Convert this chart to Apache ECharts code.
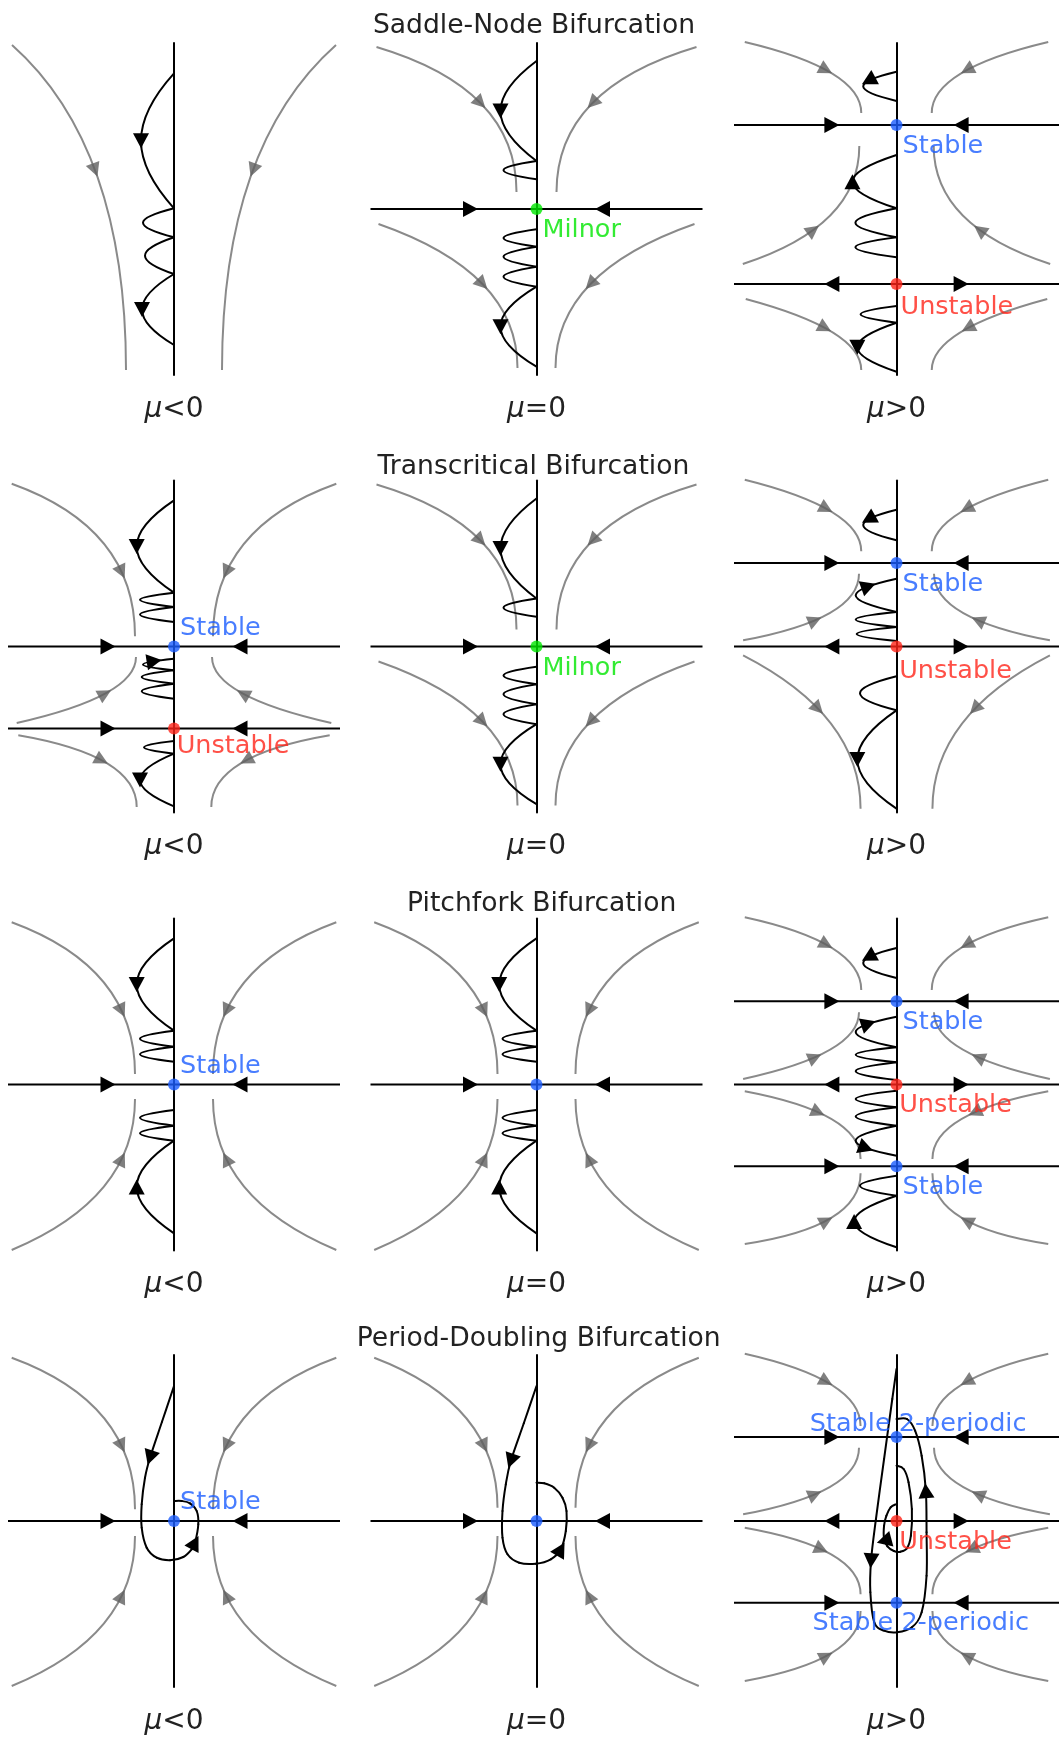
<!DOCTYPE html>
<html><head><meta charset="utf-8">
<script src="https://cdn.jsdelivr.net/npm/echarts@6/dist/echarts.min.js"></script>
<style>html,body{margin:0;padding:0;background:#fff}#chart{width:1059px;height:1737px}</style>
</head><body><div id="chart"></div>
<script>
// ================= DATA (panel-relative units, y up, vertical axis at x=0) =================
const rowTitles = ['Saddle-Node Bifurcation', 'Transcritical Bifurcation', 'Pitchfork Bifurcation', 'Period-Doubling Bifurcation'];
const muLabels = ['{i|μ}<0', '{i|μ}=0', '{i|μ}>0'];

// Flow lines (left half; right half is the mirror): [startX,startY, arrowX,arrowY, endX,endY]
// Invariant horizontal lines: [y, +1 attracting / -1 repelling]
// Fixed points: [y, kind, label]
// Iteration steps (lobes): [fromY, toY, width, arrowPosition (0 = none)]

// --- Saddle-Node ---
const snNegFlow  = [[-162, 164, -79, 39, -48, -161]];
const snNegLines = [];
const snNegFixed = [];
const snNegSteps = [[135.7, 0.7, 33, 0.5], [0.7, -28.3, 31, 0], [-28.3, -65, 29, 0], [-65, -136, 32, 0.5]];

const snZeroFlow  = [[-160, 162, -56, 106, -20, 17], [-158, -15, -54, -75, -19, -159]];
const snZeroLines = [[0, 1]];
const snZeroFixed = [[0, 'milnor', 'Milnor']];
const snZeroSteps = [[148, 48, 36, 0.5], [48, 29.7, 33, 0], [-20.3, -37.7, 33, 0], [-37.7, -57.7, 33, 0], [-57.7, -77.7, 33, 0], [-77.7, -157.7, 36, 0.5]];

const snPosFlow  = [[-155, 167, -72, 139, -36, 96], [-157, -55, -85, -21, -38, 63], [-154, -90, -73, -119, -36, -161]];
const snPosLines = [[84, 1], [-75, -1]];
const snPosFixed = [[84, 'stable', 'Stable'], [-75, 'unstable', 'Unstable']];
const snPosSteps = [[137.3, 108, 34, 0.3], [-48.3, -28.3, 42, 0], [-28.3, 0.7, 42, 0], [0.7, 54, 45, 0.5], [-97, -113.7, 36.7, 0], [-113.7, -162.7, 40, 0.5]];

// --- Transcritical ---
const tcNegFlow  = [[-162.3, 162.8, -52.3, 74.5, -39, 10.2], [-157.3, -76.5, -69, -47.2, -38, -10.5], [-155.7, -88.8, -72.3, -113.8, -37.3, -160.5]];
const tcNegLines = [[0, 1], [-82, 1]];
const tcNegFixed = [[0, 'stable', 'Stable'], [-82, 'unstable', 'Unstable']];
const tcNegSteps = [[146.2, 53.8, 37.3, 0.5], [53.8, 39.5, 34, 0], [39.5, 24.5, 34, 0],
                    [-52.2, -37.2, 32.3, 0], [-37.2, -23.8, 32.3, 0], [-23.8, -12.2, 31, 0.8],
                    [-94.5, -107.2, 30, 0], [-107.2, -159.8, 34, 0.5]];

const tcZeroFlow  = [[-160, 162, -56, 106, -20, 17], [-158, -15, -54, -75, -19, -159]];
const tcZeroLines = [[0, 1]];
const tcZeroFixed = [[0, 'milnor', 'Milnor']];
const tcZeroSteps = [[148, 48, 36, 0.5], [48, 29.7, 33, 0], [-20.3, -37.7, 33, 0], [-37.7, -57.7, 33, 0], [-57.7, -77.7, 33, 0], [-77.7, -157.7, 36, 0.5]];

const tcPosFlow  = [[-155, 166.8, -71.7, 137.8, -36, 95.2], [-156.7, 6.2, -83.3, 26.2, -38.3, 72.8], [-156.7, -8.8, -80, -62.2, -36.7, -162.2]];
const tcPosLines = [[83.5, 1], [0, -1]];
const tcPosFixed = [[83.5, 'stable', 'Stable'], [0, 'unstable', 'Unstable']];
const tcPosSteps = [[136.8, 106.2, 34, 0.3], [5.5, 19.5, 40.7, 0], [19.5, 34.5, 41.7, 0], [34.5, 67.8, 41.7, 0.78],
                    [-29.8, -63.8, 37.3, 0], [-63.8, -162.2, 40, 0.5]];

// --- Pitchfork ---
const pfNegFlow  = [[-162.3, 162.2, -52.3, 73.8, -39, 10.5], [-162.3, -165.5, -52.3, -74.5, -39, -14.5]];
const pfNegLines = [[0, 1]];
const pfNegFixed = [[0, 'stable', 'Stable']];
const pfNegSteps = [[146.2, 53.8, 37.3, 0.5], [53.8, 37.8, 34, 0], [37.8, 22.8, 34, 0],
                    [-148.8, -56.2, 37.3, 0.5], [-56.2, -41.2, 34, 0], [-41.2, -25.5, 34, 0]];

const pfZeroFlow  = [[-162.3, 162.2, -52.3, 73.8, -39, 10.5], [-162.3, -165.5, -52.3, -74.5, -39, -14.5]];
const pfZeroLines = [[0, 1]];
const pfZeroFixed = [[0, 'stable', '']];
const pfZeroSteps = [[146.2, 53.8, 37.3, 0.5], [53.8, 37.8, 34, 0], [37.8, 22.8, 34, 0],
                     [-148.8, -56.2, 37.3, 0.5], [-56.2, -41.2, 34, 0], [-41.2, -25.5, 34, 0]];

const pfPosFlow  = [[-155, 167.2, -71.7, 139.8, -36, 94.5], [-156.7, 5.5, -83.3, 27.2, -38.3, 72.2],
                    [-155, -6.8, -80, -27.8, -36.7, -74.5], [-155, -159.5, -71.7, -136.2, -36.7, -88.8]];
const pfPosLines = [[83.2, 1], [0, -1], [-81.8, 1]];
const pfPosFixed = [[83.2, 'stable', 'Stable'], [0, 'unstable', 'Unstable'], [-81.8, 'stable', 'Stable']];
const pfPosSteps = [[136.5, 106.5, 34, 0.3],
                    [4.5, 22.2, 41.7, 0], [22.2, 37.2, 41.7, 0], [37.2, 67.8, 41.7, 0.78],
                    [-6.2, -22.8, 41.7, 0], [-22.8, -41.2, 41.7, 0], [-41.2, -71.2, 41.7, 0.75],
                    [-162.8, -111.2, 43.3, 0.5], [-111.2, -91.2, 37.3, 0]];

// --- Period-Doubling --- orbits are traced point lists; arrows: [x, y, direction in degrees]
const pdNegFlow  = [[-162.3, 163.3, -52.3, 75, -39, 11.7], [-162.3, -165, -52.3, -75, -39, -15]];
const pdNegLines = [[0, 1]];
const pdNegFixed = [[0, 'stable', 'Stable']];
const pdNegOrbit = [[0, 135], [-12, 99.2], [-24, 63.3], [-29, 43.3], [-32.3, 16.7], [-32.3, -6.7], [-27.3, -26.7],
                    [-17.3, -36.7], [-4, -39.3], [9.3, -36], [17.7, -28.3], [21, -21.7], [24.3, -3.3], [22.7, 10],
                    [16, 17.7], [7.7, 20], [0, 20]];
const pdNegArrows = [[-24, 63.3, 252], [21, -21.7, 62]];

const pdZeroFlow  = [[-162.3, 163.3, -52.3, 75, -39, 13.3], [-162.3, -165, -52.3, -75, -39, -15]];
const pdZeroLines = [[0, 1]];
const pdZeroFixed = [[0, 'stable', '']];
const pdZeroOrbit = [[0, 135], [-12.7, 97.7], [-25.7, 60], [-30.7, 36.7], [-34, 10], [-34, -16.7], [-29, -33.3],
                     [-17.3, -41.7], [-0.7, -42.7], [14.3, -38.3], [24.3, -28.3], [29.3, -10], [30, 10], [26, 23.3],
                     [17.7, 33.3], [7.7, 37.7], [0, 38.3]];
const pdZeroArrows = [[-25.7, 60, 251], [24.3, -28.3, 60]];

const pdPosFlow  = [[-155, 167.3, -71.7, 139.3, -36.7, 95], [-156.7, 6.7, -83.3, 26.7, -38.3, 73.3],
                    [-155, -6.7, -76.7, -28.3, -36.7, -73.3], [-155, -160, -71.7, -135, -36.7, -90]];
const pdPosLines = [[84, 1], [0, -1], [-81.7, 1]];
const pdPosFixed = [[84, 'stable', 'Stable 2-periodic'], [0, 'unstable', 'Unstable'], [-81.7, 'stable', 'Stable 2-periodic']];
const pdPosOuterOrbit = [[0, 152], [-4.3, 122], [-8.5, 92], [-12.7, 62], [-21, 2], [-26, -39.7], [-26.7, -71.3],
                         [-22.7, -101.3], [-12.7, -109.7], [0.7, -111.3], [15.7, -106.3], [25.7, -91.3], [30.7, -54.7],
                         [30.7, -11.3], [30, 30.3], [25.7, 65.3], [19, 90.3], [10.7, 102], [0, 102]];
const pdPosInnerOrbit = [[0, 17], [-6, 13.7], [-10.3, 5.3], [-12.7, -4.7], [-12.7, -18], [-9.3, -25.3], [-2.7, -30],
                         [4, -30.7], [10.7, -27.3], [14.7, -14.7], [15.7, 12], [12.3, 38.7], [7.3, 52], [0, 55.3]];
const pdPosArrows = [[-26, -39.7, 266], [30, 30.3, 95], [-12.7, -19.7, 195]];

// ================= LAYOUT / STYLE =================
const COL_X = [174, 536.5, 900];
const ROW_Y = [209, 646.5, 1084.5, 1521];
const HALF = 166;
const AXIS_ARROW_X = 66;
const TITLE_X = [534, 533.4, 541.7, 538.7];
const TITLE_Y = [26.5, 467.5, 904, 1339.5];
const FONT = '"DejaVu Sans", sans-serif';
const COLORS = { stable: '#1a5cff', unstable: '#ff2419', milnor: '#00e600' };
const GRAY = '#8a8a8a', GRAY_ARROW = 'rgba(95,95,95,0.8)', BLACK = '#000';
// label anchor (left, middle) offsets from each fixed point, screen px
const LABEL_OFFSETS = [
  [], [[6, 21.5]], [[6, 21], [4, 23]],
  [[6, -18.5], [2.7, 17.6]], [[6, 21.5]], [[6, 21.7], [2.7, 25]],
  [[6, -17.8]], [[0, 0]], [[6, 21.4], [2.7, 20.8], [6, 21.4]],
  [[6, -19]], [[0, 0]], [[-86.7, -13], [2.7, 21.3], [-84, 21]]
];

const panels = [
  { flow: snNegFlow, lines: snNegLines, fixed: snNegFixed, steps: snNegSteps },
  { flow: snZeroFlow, lines: snZeroLines, fixed: snZeroFixed, steps: snZeroSteps },
  { flow: snPosFlow, lines: snPosLines, fixed: snPosFixed, steps: snPosSteps },
  { flow: tcNegFlow, lines: tcNegLines, fixed: tcNegFixed, steps: tcNegSteps },
  { flow: tcZeroFlow, lines: tcZeroLines, fixed: tcZeroFixed, steps: tcZeroSteps },
  { flow: tcPosFlow, lines: tcPosLines, fixed: tcPosFixed, steps: tcPosSteps },
  { flow: pfNegFlow, lines: pfNegLines, fixed: pfNegFixed, steps: pfNegSteps },
  { flow: pfZeroFlow, lines: pfZeroLines, fixed: pfZeroFixed, steps: pfZeroSteps },
  { flow: pfPosFlow, lines: pfPosLines, fixed: pfPosFixed, steps: pfPosSteps },
  { flow: pdNegFlow, lines: pdNegLines, fixed: pdNegFixed, orbits: [pdNegOrbit], arrows: pdNegArrows },
  { flow: pdZeroFlow, lines: pdZeroLines, fixed: pdZeroFixed, orbits: [pdZeroOrbit], arrows: pdZeroArrows },
  { flow: pdPosFlow, lines: pdPosLines, fixed: pdPosFixed, orbits: [pdPosOuterOrbit, pdPosInnerOrbit], arrows: pdPosArrows }
];

// ================= RENDER HELPERS =================
function arrowPoints(p, dx, dy, len, hw) {
  const n = Math.hypot(dx, dy) || 1, ux = dx / n, uy = dy / n;
  const bx = p[0] - ux * len / 2, by = p[1] - uy * len / 2;
  return [[p[0] + ux * len / 2, p[1] + uy * len / 2], [bx - uy * hw, by + ux * hw], [bx + uy * hw, by - ux * hw]];
}

function renderFlow(params, api) {
  const x0 = api.value(0), y0 = api.value(1), mx = api.value(2), my = api.value(3), x1 = api.value(4), y1 = api.value(5);
  // quadratic curve: tangent at inner end parallel to the vertical axis, passing through the arrow point
  let r = (mx - x1) / (x0 - x1); r = Math.min(Math.max(r, 0.02), 0.98);
  const u = Math.sqrt(r), t = 1 - u;
  const cy = (my - u * u * y0 - t * t * y1) / (2 * t * u);
  const P0 = api.coord([x0, y0]), C = api.coord([x1, cy]), P2 = api.coord([x1, y1]);
  const M = [u * u * P0[0] + 2 * t * u * C[0] + t * t * P2[0], u * u * P0[1] + 2 * t * u * C[1] + t * t * P2[1]];
  const dx = 2 * u * (C[0] - P0[0]) + 2 * t * (P2[0] - C[0]);
  const dy = 2 * u * (C[1] - P0[1]) + 2 * t * (P2[1] - C[1]);
  return { type: 'group', children: [
    { type: 'bezierCurve', shape: { x1: P0[0], y1: P0[1], cpx1: C[0], cpy1: C[1], x2: P2[0], y2: P2[1] },
      style: { stroke: GRAY, lineWidth: 2, fill: null } },
    { type: 'polygon', shape: { points: arrowPoints(M, dx, dy, 14, 7.2) }, style: { fill: GRAY_ARROW } }
  ] };
}

function renderLine(params, api) {
  const y = api.value(1), dir = api.value(2);
  const A = api.coord([-HALF, y]), B = api.coord([HALF, y]);
  const L = api.coord([-AXIS_ARROW_X, y]), R = api.coord([AXIS_ARROW_X, y]);
  return { type: 'group', children: [
    { type: 'line', shape: { x1: A[0], y1: A[1], x2: B[0], y2: B[1] }, style: { stroke: BLACK, lineWidth: 2 } },
    { type: 'polygon', shape: { points: arrowPoints(L, dir, 0, 15, 8) }, style: { fill: BLACK } },
    { type: 'polygon', shape: { points: arrowPoints(R, -dir, 0, 15, 8) }, style: { fill: BLACK } }
  ] };
}

function renderStep(params, api) {
  const ya = api.value(0), yb = api.value(1), w = api.value(2), at = api.value(3);
  const k = 4 / 3 * w, a = 0.36; // rounded lobe between the two axis crossings
  const P0 = api.coord([0, ya]), C1 = api.coord([-k, ya + a * (yb - ya)]);
  const C2 = api.coord([-k, ya + (1 - a) * (yb - ya)]), P3 = api.coord([0, yb]);
  const children = [{ type: 'bezierCurve',
    shape: { x1: P0[0], y1: P0[1], cpx1: C1[0], cpy1: C1[1], cpx2: C2[0], cpy2: C2[1], x2: P3[0], y2: P3[1] },
    style: { stroke: BLACK, lineWidth: 2, fill: null } }];
  if (at > 0) {
    const t = at, s = 1 - t;
    const pt = [0, 1].map(j => s*s*s*P0[j] + 3*s*s*t*C1[j] + 3*s*t*t*C2[j] + t*t*t*P3[j]);
    const d = [0, 1].map(j => 3*s*s*(C1[j]-P0[j]) + 6*s*t*(C2[j]-C1[j]) + 3*t*t*(P3[j]-C2[j]));
    children.push({ type: 'polygon', shape: { points: arrowPoints(pt, d[0], d[1], 15, 8) }, style: { fill: BLACK } });
  }
  return { type: 'group', children };
}

function makeOrbitRenderer(pts) {
  return function (params, api) {
    const i = params.dataIndex;
    if (i >= pts.length - 1) return;
    const P = k => api.coord(pts[Math.max(0, Math.min(pts.length - 1, k))]);
    const p0 = P(i - 1), p1 = P(i), p2 = P(i + 1), p3 = P(i + 2);
    return { type: 'bezierCurve',
      shape: { x1: p1[0], y1: p1[1], cpx1: p1[0] + (p2[0] - p0[0]) / 6, cpy1: p1[1] + (p2[1] - p0[1]) / 6,
               cpx2: p2[0] - (p3[0] - p1[0]) / 6, cpy2: p2[1] - (p3[1] - p1[1]) / 6, x2: p2[0], y2: p2[1] },
      style: { stroke: BLACK, lineWidth: 2, fill: null, lineCap: 'round' } };
  };
}

function renderOrbitArrow(params, api) {
  const p = api.coord([api.value(0), api.value(1)]), ang = api.value(2) * Math.PI / 180;
  return { type: 'polygon', shape: { points: arrowPoints(p, Math.cos(ang), -Math.sin(ang), 15, 8) }, style: { fill: BLACK } };
}

// ================= OPTION =================
const grid = [], xAxis = [], yAxis = [], series = [], graphic = [];
panels.forEach((p, i) => {
  const r = Math.floor(i / 3), c = i % 3;
  grid.push({ left: COL_X[c] - HALF, top: ROW_Y[r] - HALF, width: 2 * HALF, height: 2 * HALF });
  xAxis.push({ type: 'value', gridIndex: i, min: -HALF, max: HALF, name: muLabels[c], nameLocation: 'middle', nameGap: 20.5,
    nameTextStyle: { fontSize: 28, color: '#222', fontFamily: FONT,
      rich: { i: { fontStyle: 'italic', fontSize: 28, color: '#222', fontFamily: FONT } } },
    axisLine: { show: false, onZero: false }, axisTick: { show: false }, axisLabel: { show: false }, splitLine: { show: false } });
  yAxis.push({ type: 'value', gridIndex: i, min: -HALF, max: HALF,
    axisLine: { show: true, onZero: true, lineStyle: { color: BLACK, width: 2 } },
    axisTick: { show: false }, axisLabel: { show: false }, splitLine: { show: false } });
  const base = { type: 'custom', coordinateSystem: 'cartesian2d', xAxisIndex: i, yAxisIndex: i, silent: true, animation: false };
  const flowData = [];
  p.flow.forEach(f => { flowData.push(f.slice()); flowData.push([-f[0], f[1], -f[2], f[3], -f[4], f[5]]); });
  series.push(Object.assign({}, base, { name: 'flow' + i, z: 2, data: flowData, renderItem: renderFlow }));
  if (p.lines.length) series.push(Object.assign({}, base, { name: 'lines' + i, z: 3, data: p.lines.map(l => [0, l[0], l[1]]), renderItem: renderLine }));
  if (p.steps) series.push(Object.assign({}, base, { name: 'steps' + i, z: 4, data: p.steps, renderItem: renderStep }));
  if (p.orbits) {
    p.orbits.forEach((o, k) => series.push(Object.assign({}, base, { name: 'orbit' + i + '_' + k, z: 4, data: o, renderItem: makeOrbitRenderer(o) })));
    series.push(Object.assign({}, base, { name: 'orbitArrows' + i, z: 5, data: p.arrows, renderItem: renderOrbitArrow }));
  }
  if (p.fixed.length) series.push({ type: 'scatter', xAxisIndex: i, yAxisIndex: i, z: 6, silent: true, animation: false,
    symbol: 'circle', symbolSize: 12,
    data: p.fixed.map((f, k) => {
      const off = LABEL_OFFSETS[i][k];
      return { value: [0, f[0]], itemStyle: { color: COLORS[f[1]] },
        label: { show: !!f[2], formatter: f[2], position: [off[0] + 6, off[1] + 6], align: 'left', verticalAlign: 'middle',
          color: COLORS[f[1]], fontSize: 25.5, fontFamily: FONT } };
    }) });
});
rowTitles.forEach((t, r) => graphic.push({ type: 'text', x: TITLE_X[r], y: TITLE_Y[r], silent: true,
  style: { text: t, fill: '#222', font: '26.6px ' + FONT, align: 'center', verticalAlign: 'middle', textAlign: 'center', textVerticalAlign: 'middle' } }));

const chart = echarts.init(document.getElementById('chart'), null, { renderer: 'canvas', width: 1059, height: 1737 });
chart.setOption({ backgroundColor: '#fff', animation: false, grid, xAxis, yAxis, series, graphic });
</script></body></html>
